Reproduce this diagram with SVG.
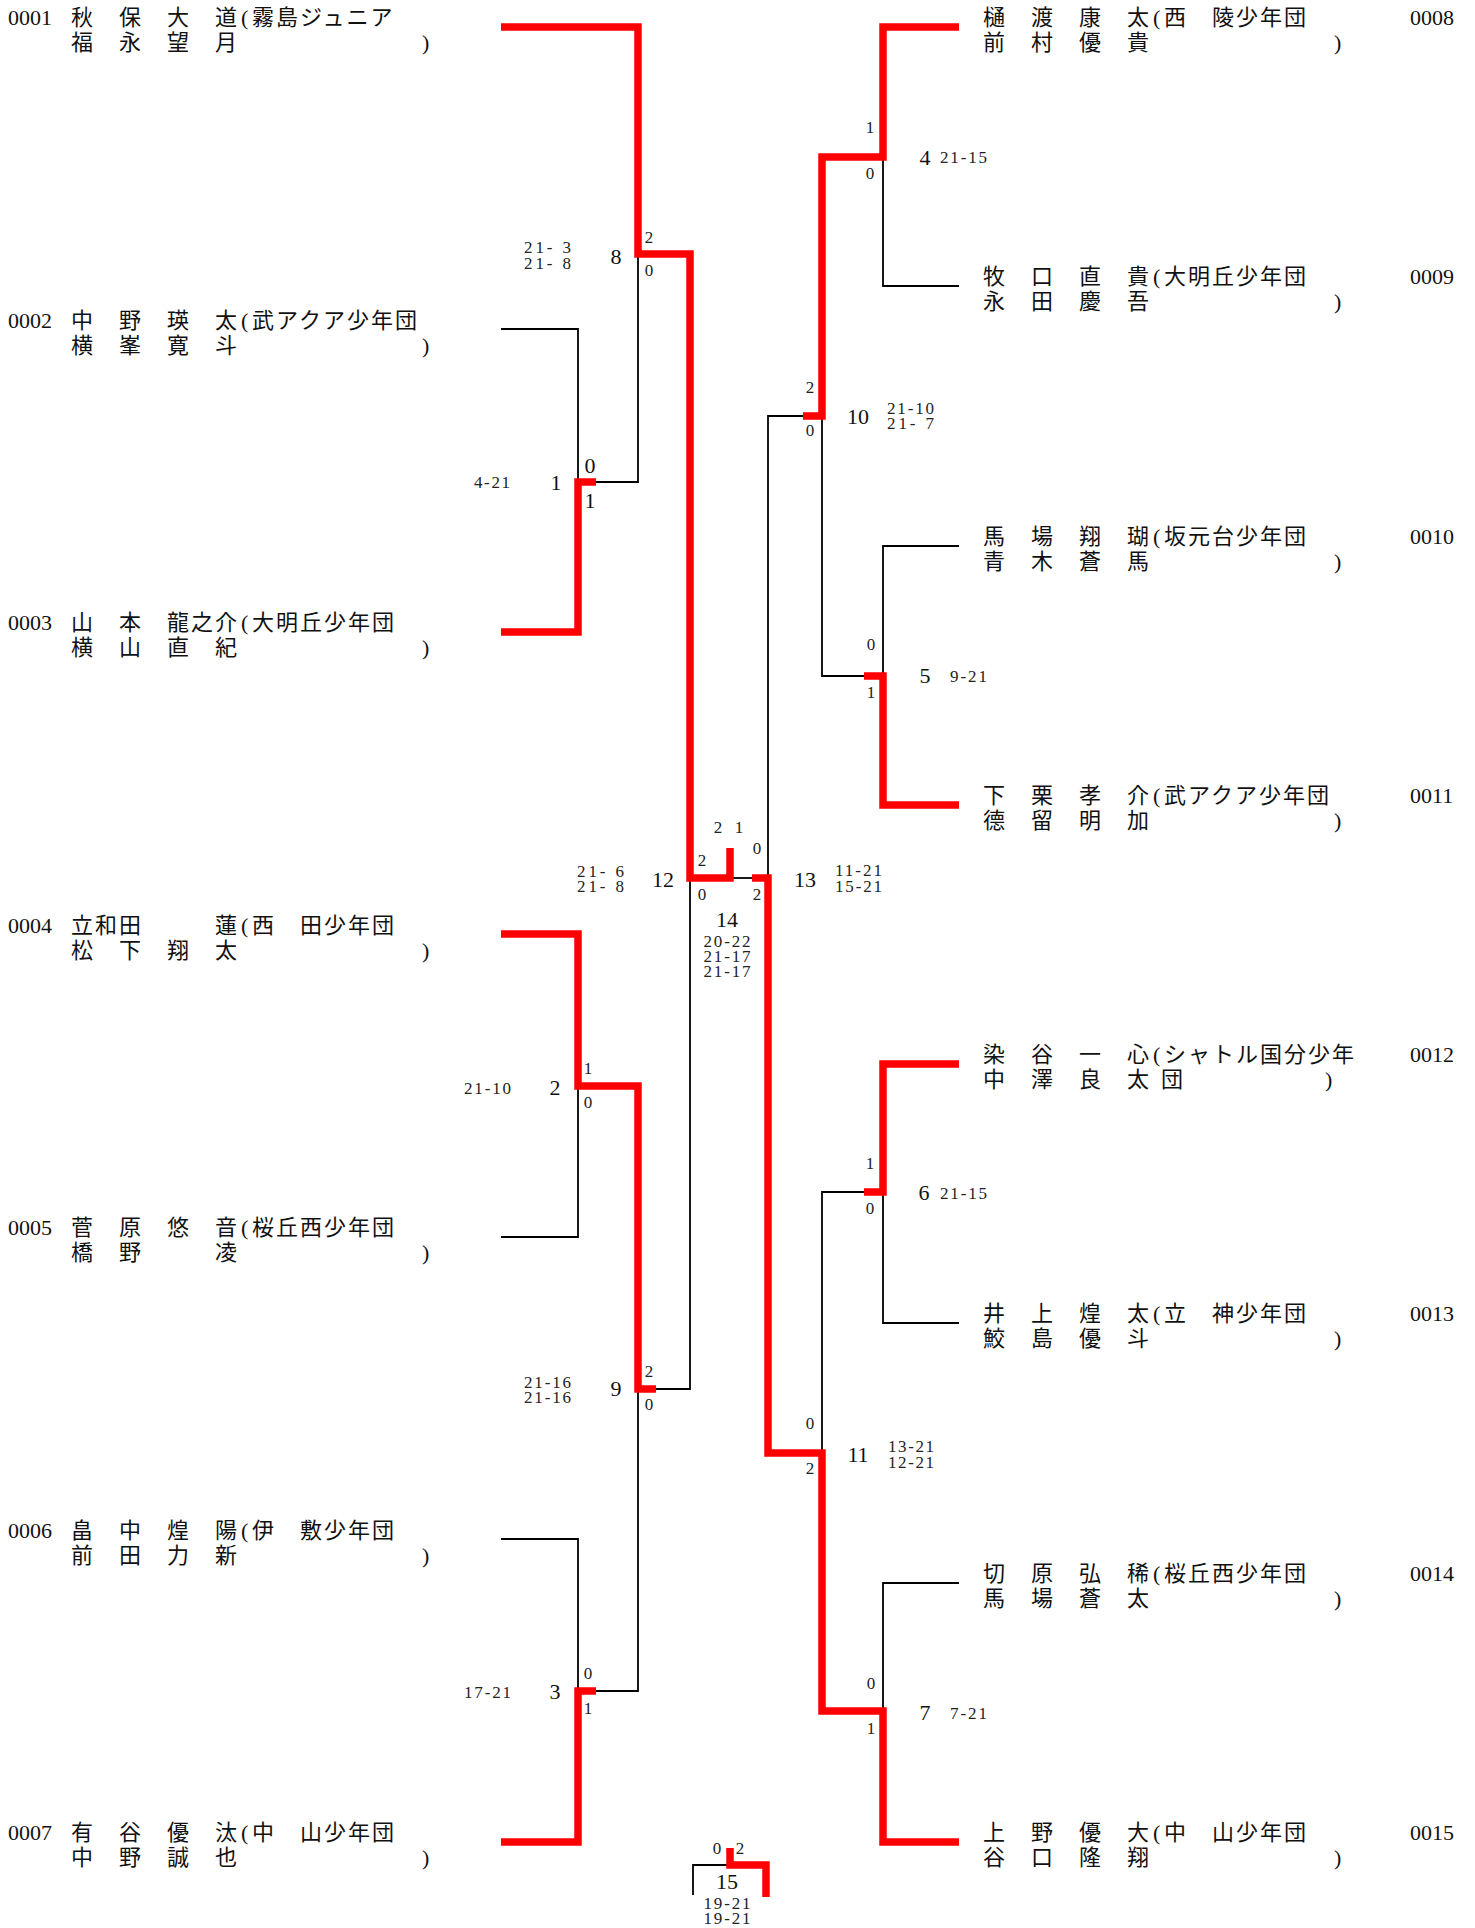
<svg xmlns="http://www.w3.org/2000/svg" width="1475" height="1928" viewBox="0 0 1475 1928">
<style>
.j{font-family:"Noto Sans CJK JP","Noto Sans CJK SC",sans-serif;font-size:22px;letter-spacing:2px;fill:#111}
.d{font-family:"Liberation Serif",serif;font-size:22px;fill:#111}
.s{font-family:"Liberation Serif",serif;font-size:17px;fill:#222}
.c{text-anchor:middle}
.k{fill:none;stroke:#000;stroke-width:1.8}
.r{fill:none;stroke:#ff0000;stroke-width:7.5;stroke-linejoin:miter}
</style>
<rect width="1475" height="1928" fill="#fff"/>

<g id="connectors">
<path class="k" d="M501,329H578V482"/>
<path class="k" d="M596,482H638V254"/>
<path class="k" d="M501,1237H578V1086"/>
<path class="k" d="M501,1539H578V1691"/>
<path class="k" d="M596,1691H638V1389"/>
<path class="k" d="M656,1389H690V878"/>
<path class="k" d="M730,878H752"/>
<path class="k" d="M959,286H883V157"/>
<path class="k" d="M803,416H768V878"/>
<path class="k" d="M959,546H883V676"/>
<path class="k" d="M864,676H822V416"/>
<path class="k" d="M959,1323H883V1192"/>
<path class="k" d="M864,1192H822V1453"/>
<path class="k" d="M959,1583H883V1711"/>
<path class="k" d="M693,1895V1865H730"/>
<path class="r" d="M501,27H638V254H690V878H730V848"/>
<path class="r" d="M501,632H578V482H596"/>
<path class="r" d="M501,934H578V1086H638V1389H656"/>
<path class="r" d="M501,1842H578V1691H596"/>
<path class="r" d="M959,27H883V157H822V416H803"/>
<path class="r" d="M959,805H883V676H864"/>
<path class="r" d="M959,1064H883V1192H864"/>
<path class="r" d="M959,1842H883V1711H822V1453H768V878H752"/>
<path class="r" d="M730,1848V1865H766V1897"/>
</g>

<g id="e0001"><text class="d" x="8" y="25">0001</text><text class="j" x="71" y="25">秋　保　大　道</text><text class="d" x="241" y="25">(</text><text class="j" x="252" y="25">霧島ジュニア</text><text class="j" x="71" y="50">福　永　望　月</text><text class="d" x="422" y="50">)</text></g>
<g id="e0002"><text class="d" x="8" y="328">0002</text><text class="j" x="71" y="328">中　野　瑛　太</text><text class="d" x="241" y="328">(</text><text class="j" x="252" y="328">武アクア少年団</text><text class="j" x="71" y="353">横　峯　寛　斗</text><text class="d" x="422" y="353">)</text></g>
<g id="e0003"><text class="d" x="8" y="630">0003</text><text class="j" x="71" y="630">山　本　龍之介</text><text class="d" x="241" y="630">(</text><text class="j" x="252" y="630">大明丘少年団</text><text class="j" x="71" y="655">横　山　直　紀</text><text class="d" x="422" y="655">)</text></g>
<g id="e0004"><text class="d" x="8" y="933">0004</text><text class="j" x="71" y="933">立和田　　　蓮</text><text class="d" x="241" y="933">(</text><text class="j" x="252" y="933">西　田少年団</text><text class="j" x="71" y="958">松　下　翔　太</text><text class="d" x="422" y="958">)</text></g>
<g id="e0005"><text class="d" x="8" y="1235">0005</text><text class="j" x="71" y="1235">菅　原　悠　音</text><text class="d" x="241" y="1235">(</text><text class="j" x="252" y="1235">桜丘西少年団</text><text class="j" x="71" y="1260">橋　野　　　凌</text><text class="d" x="422" y="1260">)</text></g>
<g id="e0006"><text class="d" x="8" y="1538">0006</text><text class="j" x="71" y="1538">畠　中　煌　陽</text><text class="d" x="241" y="1538">(</text><text class="j" x="252" y="1538">伊　敷少年団</text><text class="j" x="71" y="1563">前　田　力　新</text><text class="d" x="422" y="1563">)</text></g>
<g id="e0007"><text class="d" x="8" y="1840">0007</text><text class="j" x="71" y="1840">有　谷　優　汰</text><text class="d" x="241" y="1840">(</text><text class="j" x="252" y="1840">中　山少年団</text><text class="j" x="71" y="1865">中　野　誠　也</text><text class="d" x="422" y="1865">)</text></g>

<g id="e0008"><text class="j" x="983" y="25">樋　渡　康　太</text><text class="d" x="1153" y="25">(</text><text class="j" x="1164" y="25">西　陵少年団</text><text class="d" x="1410" y="25">0008</text><text class="j" x="983" y="50">前　村　優　貴</text><text class="d" x="1334" y="50">)</text></g>
<g id="e0009"><text class="j" x="983" y="284">牧　口　直　貴</text><text class="d" x="1153" y="284">(</text><text class="j" x="1164" y="284">大明丘少年団</text><text class="d" x="1410" y="284">0009</text><text class="j" x="983" y="309">永　田　慶　吾</text><text class="d" x="1334" y="309">)</text></g>
<g id="e0010"><text class="j" x="983" y="544">馬　場　翔　瑚</text><text class="d" x="1153" y="544">(</text><text class="j" x="1164" y="544">坂元台少年団</text><text class="d" x="1410" y="544">0010</text><text class="j" x="983" y="569">青　木　蒼　馬</text><text class="d" x="1334" y="569">)</text></g>
<g id="e0011"><text class="j" x="983" y="803">下　栗　孝　介</text><text class="d" x="1153" y="803">(</text><text class="j" x="1164" y="803">武アクア少年団</text><text class="d" x="1410" y="803">0011</text><text class="j" x="983" y="828">德　留　明　加</text><text class="d" x="1334" y="828">)</text></g>
<g id="e0012"><text class="j" x="983" y="1062">染　谷　一　心</text><text class="d" x="1153" y="1062">(</text><text class="j" x="1164" y="1062">シャトル国分少年</text><text class="d" x="1410" y="1062">0012</text><text class="j" x="983" y="1087">中　澤　良　太</text><text class="j" x="1161" y="1087">団</text><text class="d" x="1325" y="1087">)</text></g>
<g id="e0013"><text class="j" x="983" y="1321">井　上　煌　太</text><text class="d" x="1153" y="1321">(</text><text class="j" x="1164" y="1321">立　神少年団</text><text class="d" x="1410" y="1321">0013</text><text class="j" x="983" y="1346">鮫　島　優　斗</text><text class="d" x="1334" y="1346">)</text></g>
<g id="e0014"><text class="j" x="983" y="1581">切　原　弘　稀</text><text class="d" x="1153" y="1581">(</text><text class="j" x="1164" y="1581">桜丘西少年団</text><text class="d" x="1410" y="1581">0014</text><text class="j" x="983" y="1606">馬　場　蒼　太</text><text class="d" x="1334" y="1606">)</text></g>
<g id="e0015"><text class="j" x="983" y="1840">上　野　優　大</text><text class="d" x="1153" y="1840">(</text><text class="j" x="1164" y="1840">中　山少年団</text><text class="d" x="1410" y="1840">0015</text><text class="j" x="983" y="1865">谷　口　隆　翔</text><text class="d" x="1334" y="1865">)</text></g>

<g id="m1"><text class="d c" x="556" y="490">1</text><text class="s" x="474" y="488" textLength="36" lengthAdjust="spacing">4-21</text><text class="d c" x="590" y="473">0</text><text class="d c" x="590" y="508">1</text></g>
<g id="m2"><text class="d c" x="555" y="1095">2</text><text class="s" x="464" y="1094" textLength="47" lengthAdjust="spacing">21-10</text><text class="s c" x="588" y="1074">1</text><text class="s c" x="588" y="1108">0</text></g>
<g id="m3"><text class="d c" x="555" y="1699">3</text><text class="s" x="464" y="1698" textLength="47" lengthAdjust="spacing">17-21</text><text class="s c" x="588" y="1679">0</text><text class="s c" x="588" y="1714">1</text></g>
<g id="m8"><text class="d c" x="616" y="264">8</text><text class="s" x="524" y="253" xml:space="preserve" textLength="47" lengthAdjust="spacing">21- 3</text><text class="s" x="524" y="269" xml:space="preserve" textLength="47" lengthAdjust="spacing">21- 8</text><text class="s c" x="649" y="243">2</text><text class="s c" x="649" y="276">0</text></g>
<g id="m9"><text class="d c" x="616" y="1396">9</text><text class="s" x="524" y="1388" textLength="47" lengthAdjust="spacing">21-16</text><text class="s" x="524" y="1403" textLength="47" lengthAdjust="spacing">21-16</text><text class="s c" x="649" y="1377">2</text><text class="s c" x="649" y="1410">0</text></g>
<g id="m12"><text class="d c" x="663" y="887">12</text><text class="s" x="577" y="877" xml:space="preserve" textLength="47" lengthAdjust="spacing">21- 6</text><text class="s" x="577" y="892" xml:space="preserve" textLength="47" lengthAdjust="spacing">21- 8</text><text class="s c" x="702" y="866">2</text><text class="s c" x="702" y="900">0</text></g>
<g id="m13"><text class="d c" x="805" y="887">13</text><text class="s" x="835" y="876" textLength="47" lengthAdjust="spacing">11-21</text><text class="s" x="835" y="892" textLength="47" lengthAdjust="spacing">15-21</text><text class="s c" x="757" y="854">0</text><text class="s c" x="757" y="900">2</text></g>
<g id="m14"><text class="d c" x="727" y="927">14</text><text class="s c" x="727" y="947" textLength="47" lengthAdjust="spacing">20-22</text><text class="s c" x="727" y="962" textLength="47" lengthAdjust="spacing">21-17</text><text class="s c" x="727" y="977" textLength="47" lengthAdjust="spacing">21-17</text><text class="s c" x="718" y="833">2</text><text class="s c" x="739" y="833">1</text></g>
<g id="m15"><text class="d c" x="727" y="1889">15</text><text class="s c" x="727" y="1909" textLength="47" lengthAdjust="spacing">19-21</text><text class="s c" x="727" y="1924" textLength="47" lengthAdjust="spacing">19-21</text><text class="s c" x="717" y="1854">0</text><text class="s c" x="740" y="1854">2</text></g>
<g id="m4"><text class="d c" x="925" y="165">4</text><text class="s" x="940" y="163" textLength="47" lengthAdjust="spacing">21-15</text><text class="s c" x="870" y="133">1</text><text class="s c" x="870" y="179">0</text></g>
<g id="m10"><text class="d c" x="858" y="424">10</text><text class="s" x="887" y="414" textLength="47" lengthAdjust="spacing">21-10</text><text class="s" x="887" y="429" xml:space="preserve" textLength="47" lengthAdjust="spacing">21- 7</text><text class="s c" x="810" y="393">2</text><text class="s c" x="810" y="436">0</text></g>
<g id="m5"><text class="d c" x="925" y="683">5</text><text class="s" x="950" y="682" textLength="37" lengthAdjust="spacing">9-21</text><text class="s c" x="871" y="650">0</text><text class="s c" x="871" y="698">1</text></g>
<g id="m6"><text class="d c" x="924" y="1200">6</text><text class="s" x="940" y="1199" textLength="47" lengthAdjust="spacing">21-15</text><text class="s c" x="870" y="1169">1</text><text class="s c" x="870" y="1214">0</text></g>
<g id="m11"><text class="d c" x="858" y="1462">11</text><text class="s" x="888" y="1452" textLength="46" lengthAdjust="spacing">13-21</text><text class="s" x="888" y="1468" textLength="46" lengthAdjust="spacing">12-21</text><text class="s c" x="810" y="1429">0</text><text class="s c" x="810" y="1474">2</text></g>
<g id="m7"><text class="d c" x="925" y="1720">7</text><text class="s" x="950" y="1719" textLength="37" lengthAdjust="spacing">7-21</text><text class="s c" x="871" y="1689">0</text><text class="s c" x="871" y="1734">1</text></g>
</svg>
